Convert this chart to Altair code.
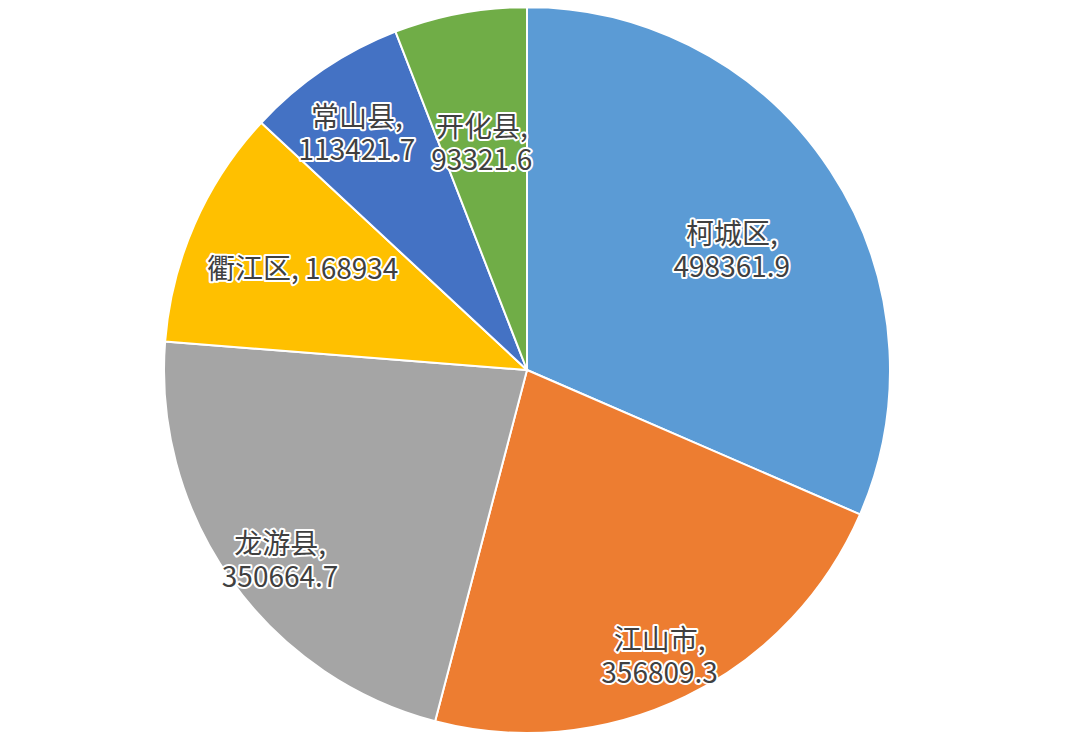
import altair as alt
import pandas as pd

names = ["柯城区", "江山市", "龙游县", "衢江区", "常山县", "开化县"]
values = [498361.9, 356809.3, 350664.7, 168934, 113421.7, 93321.6]
colors = ["#5B9BD5", "#ED7D31", "#A5A5A5", "#FFC000", "#4472C4", "#70AD47"]
separators = ["\n", "\n", "\n", " ", "\n", "\n"]
inner_labels = ["柯城区", "衢江区", "开化县"]

labels = [f"{n},{s}{v}" for n, s, v in zip(names, separators, values)]
df = pd.DataFrame({"name": names, "value": values, "label": labels, "idx": list(range(len(names)))})

CX, CY, R = 519, 362, 363

arcs = alt.Chart(df).mark_arc(outerRadius=R, stroke="white", strokeWidth=2).encode(
    theta=alt.Theta("value:Q", stack=True),
    order=alt.Order("idx:Q"),
    color=alt.Color("name:N", scale=alt.Scale(domain=names, range=colors), legend=None),
    x=alt.value(CX), y=alt.value(CY),
)

lab_base = alt.Chart(df).transform_window(
    cum="sum(value)", sort=[alt.SortField("idx")], frame=[None, 0]
).transform_calculate(mid="datum.cum - datum.value / 2")


def label_layer(radius, inner):
    pred = alt.FieldOneOfPredicate(field="name", oneOf=inner_labels)
    filt = pred if inner else {"not": pred}
    src = lab_base.transform_filter(filt)
    args = dict(radius=radius, font="Noto Sans CJK SC", fontSize=28, lineBreak="\n",
                lineHeight=33, align="center", baseline="middle")
    enc = dict(theta=alt.Theta("mid:Q", stack=False), text="label:N",
               x=alt.value(CX), y=alt.value(CY))
    halo = src.mark_text(stroke="white", strokeWidth=4, strokeJoin="round", fill="white", **args).encode(**enc)
    txt = src.mark_text(fill="#404040", **args).encode(**enc)
    return [halo, txt]


layers = [arcs] + label_layer(245, True) + label_layer(303, False)

chart = alt.layer(*layers).properties(
    width=1064, height=734, padding=0,
    autosize=alt.AutoSizeParams(type="none"),
).configure_view(stroke=None)

chart.save("out.html", embed_options={"renderer": "svg", "actions": False})
